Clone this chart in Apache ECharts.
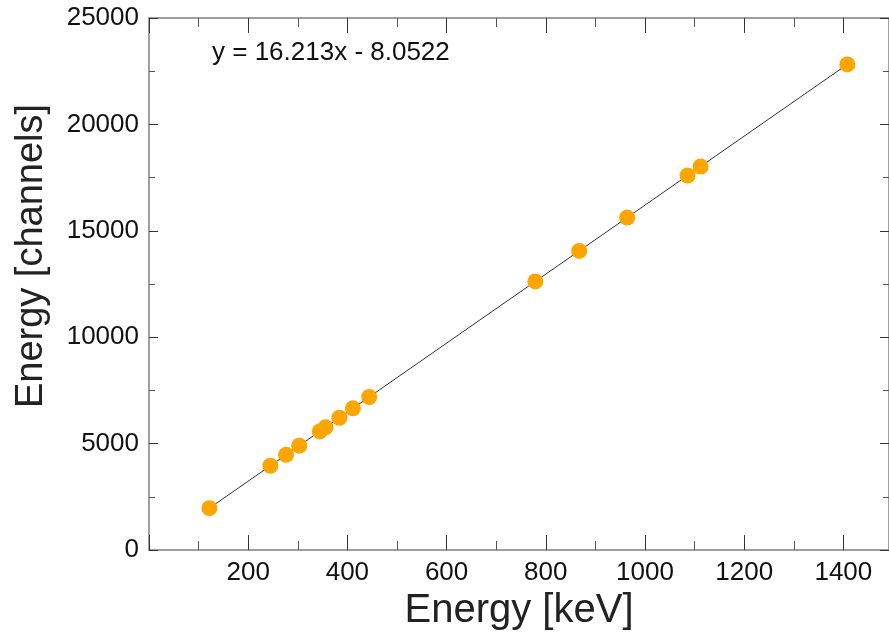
<!DOCTYPE html>
<html>
<head>
<meta charset="utf-8">
<script src="https://cdn.jsdelivr.net/npm/echarts@6/dist/echarts.min.js"></script>
<style>html,body{margin:0;padding:0;background:#fff}#c{width:889px;height:640px}</style>
</head>
<body>
<div id="c"></div>
<script>
// Gamma line energies (keV) and measured peak positions (channels)
const energyKeV = [121.8, 244.7, 276.4, 302.9, 344.3, 356.0, 383.8, 411.1, 443.9, 778.9, 867.4, 964.1, 1085.8, 1112.1, 1408.0];
const channels  = [1967, 3959, 4473, 4903, 5574, 5764, 6215, 6657, 7189, 12620, 14055, 15623, 17596, 18022, 22820];
// Fit line end points
const fitX = [121.8, 1408.0];
const fitY = [1967, 22820];
const fitLabel = 'y = 16.213x - 8.0522';
const xTitle = 'Energy [keV]';
const yTitle = 'Energy [channels]';

const chart = echarts.init(document.getElementById('c'), null, {renderer: 'canvas'});
const FONT = 'Liberation Sans, Arial, sans-serif';
const axisLineStyle = {color: '#808080', width: 1.5};
const tickStyle = {color: '#333', width: 1};
const minorStyle = {color: '#555', width: 1};
chart.setOption({
  animation: false,
  backgroundColor: '#fff',
  grid: {left: 149, right: 0, top: 18, bottom: 90},
  xAxis: [{
    type: 'value', min: 0, max: 1492, interval: 200, position: 'bottom',
    axisLine: {show: true, onZero: false, lineStyle: axisLineStyle},
    axisTick: {show: true, inside: true, length: 15, lineStyle: tickStyle},
    minorTick: {show: true, splitNumber: 2, length: 9, lineStyle: minorStyle},
    splitLine: {show: false},
    axisLabel: {margin: 10, fontFamily: FONT, fontSize: 26, color: '#111',
      formatter: v => (v === 0 ? '' : String(v))},
    name: xTitle, nameLocation: 'middle', nameGap: 38,
    nameTextStyle: {fontFamily: FONT, fontSize: 40, color: '#222'}
  }, {
    type: 'value', min: 0, max: 1492, interval: 200, position: 'top',
    axisLine: {show: true, onZero: false, lineStyle: axisLineStyle},
    axisTick: {show: true, inside: true, length: 15, lineStyle: tickStyle},
    minorTick: {show: true, splitNumber: 2, length: 9, lineStyle: minorStyle},
    splitLine: {show: false}, axisLabel: {show: false}
  }],
  yAxis: [{
    type: 'value', min: 0, max: 25000, interval: 5000, position: 'left',
    axisLine: {show: true, onZero: false, lineStyle: axisLineStyle},
    axisTick: {show: true, inside: true, length: 9, lineStyle: tickStyle},
    minorTick: {show: true, splitNumber: 2, length: 6, lineStyle: minorStyle},
    splitLine: {show: false},
    axisLabel: {margin: 10, fontFamily: FONT, fontSize: 26, color: '#111',
      formatter: v => String(v)}
  }, {
    type: 'value', min: 0, max: 25000, interval: 5000, position: 'right',
    axisLine: {show: true, onZero: false, lineStyle: axisLineStyle},
    axisTick: {show: true, inside: true, length: 9, lineStyle: tickStyle},
    minorTick: {show: true, splitNumber: 2, length: 6, lineStyle: minorStyle},
    splitLine: {show: false}, axisLabel: {show: false}
  }],
  graphic: [{
    type: 'text', left: 212, top: 40,
    style: {text: fitLabel, fontFamily: FONT, fontSize: 26, fill: '#111'}
  }, {
    type: 'text', x: 32, y: 256, rotation: Math.PI / 2,
    style: {text: yTitle, fontFamily: FONT, fontSize: 38, fill: '#222',
      textAlign: 'center', textVerticalAlign: 'middle'}
  }],
  series: [{
    type: 'line', data: fitX.map((x, i) => [x, fitY[i]]),
    showSymbol: false, symbol: 'none', lineStyle: {color: '#333', width: 1}, z: 1, silent: true
  }, {
    type: 'scatter', data: energyKeV.map((x, i) => [x, channels[i]]),
    symbol: 'circle', symbolSize: 16, itemStyle: {color: '#FFA500', opacity: 1}, z: 3
  }]
});
</script>
</body>
</html>
